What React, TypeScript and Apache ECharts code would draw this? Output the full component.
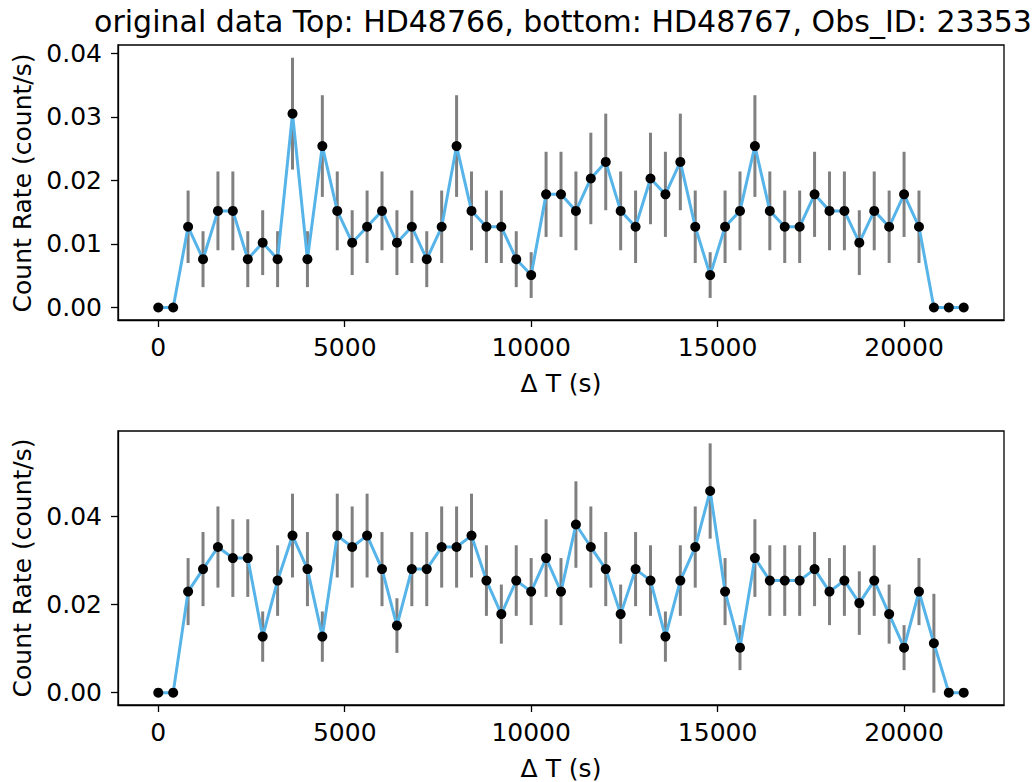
import React, { useEffect, useRef } from "react";
import * as echarts from "echarts";

const titleText = "original data Top: HD48766, bottom: HD48767, Obs_ID: 23353";
const yLabel = "Count Rate (count/s)";
const xLabel = "Δ T (s)";

const times = [
  0, 400, 800, 1200, 1600, 2000, 2400, 2800, 3200, 3600,
  4000, 4400, 4800, 5200, 5600, 6000, 6400, 6800, 7200, 7600,
  8000, 8400, 8800, 9200, 9600, 10000, 10400, 10800, 11200, 11600,
  12000, 12400, 12800, 13200, 13600, 14000, 14400, 14800, 15200, 15600,
  16000, 16400, 16800, 17200, 17600, 18000, 18400, 18800, 19200, 19600,
  20000, 20400, 20800, 21200, 21600,
];

const topRate = [
  0, 0, 0.0127, 0.0076, 0.0152, 0.0152, 0.0076, 0.0102, 0.0076, 0.0305,
  0.0076, 0.0254, 0.0152, 0.0102, 0.0127, 0.0152, 0.0102, 0.0127, 0.0076, 0.0127,
  0.0254, 0.0152, 0.0127, 0.0127, 0.0076, 0.0051, 0.0178, 0.0178, 0.0152, 0.0203,
  0.0229, 0.0152, 0.0127, 0.0203, 0.0178, 0.0229, 0.0127, 0.0051, 0.0127, 0.0152,
  0.0254, 0.0152, 0.0127, 0.0127, 0.0178, 0.0152, 0.0152, 0.0102, 0.0152, 0.0127,
  0.0178, 0.0127, 0, 0, 0,
];

const topErr = [
  0, 0, 0.0057, 0.0044, 0.0062, 0.0062, 0.0044, 0.0051, 0.0044, 0.0088,
  0.0044, 0.008, 0.0062, 0.0051, 0.0057, 0.0062, 0.0051, 0.0057, 0.0044, 0.0057,
  0.008, 0.0062, 0.0057, 0.0057, 0.0044, 0.0036, 0.0067, 0.0067, 0.0062, 0.0072,
  0.0076, 0.0062, 0.0057, 0.0072, 0.0067, 0.0076, 0.0057, 0.0036, 0.0057, 0.0062,
  0.008, 0.0062, 0.0057, 0.0057, 0.0067, 0.0062, 0.0062, 0.0051, 0.0062, 0.0057,
  0.0067, 0.0057, 0, 0, 0,
];

const botRate = [
  0, 0, 0.0229, 0.028, 0.033, 0.0305, 0.0305, 0.0127, 0.0254, 0.0356,
  0.028, 0.0127, 0.0356, 0.033, 0.0356, 0.028, 0.0152, 0.028, 0.028, 0.033,
  0.033, 0.0356, 0.0254, 0.0178, 0.0254, 0.0229, 0.0305, 0.0229, 0.0381, 0.033,
  0.028, 0.0178, 0.028, 0.0254, 0.0127, 0.0254, 0.033, 0.0457, 0.0229, 0.0102,
  0.0305, 0.0254, 0.0254, 0.0254, 0.028, 0.0229, 0.0254, 0.0203, 0.0254, 0.0178,
  0.0102, 0.0229, 0.0112, 0, 0,
];

const botErr = [
  0, 0, 0.0076, 0.0084, 0.0092, 0.0088, 0.0088, 0.0057, 0.008, 0.0095,
  0.0084, 0.0057, 0.0095, 0.0092, 0.0095, 0.0084, 0.0062, 0.0084, 0.0084, 0.0092,
  0.0092, 0.0095, 0.008, 0.0067, 0.008, 0.0076, 0.0088, 0.0076, 0.0098, 0.0092,
  0.0084, 0.0067, 0.0084, 0.008, 0.0057, 0.008, 0.0092, 0.0108, 0.0076, 0.0051,
  0.0088, 0.008, 0.008, 0.008, 0.0084, 0.0076, 0.008, 0.0072, 0.008, 0.0067,
  0.0051, 0.0076, 0.0112, 0, 0,
];

const xTicks = [0, 5000, 10000, 15000, 20000];
const topYTicks = [0, 0.01, 0.02, 0.03, 0.04];
const botYTicks = [0, 0.02, 0.04];

const FONT = "DejaVu Sans";
const FS = 25;
const TITLE_FS = 30;
const LINE_COLOR = "#56B4E9";
const ERR_COLOR = "#808080";

function xAxisDef(gridIndex: number) {
  return {
    type: "value",
    gridIndex,
    min: -1080,
    max: 22680,
    axisLine: { show: true, onZero: false, lineStyle: { color: "#000", width: 1.3 } },
    axisTick: { show: true, length: 7, customValues: xTicks, lineStyle: { color: "#000", width: 1.3 } },
    axisLabel: {
      show: true,
      customValues: xTicks,
      margin: 15,
      color: "#000",
      fontFamily: FONT,
      fontSize: FS,
      formatter: (v: number) => String(Math.round(v)),
    },
    splitLine: { show: false },
  };
}

function yAxisDef(gridIndex: number, min: number, max: number, ticks: number[]) {
  return {
    type: "value",
    gridIndex,
    min,
    max,
    axisLine: { show: true, onZero: false, lineStyle: { color: "#000", width: 1.3 } },
    axisTick: { show: true, length: 7, customValues: ticks, lineStyle: { color: "#000", width: 1.3 } },
    axisLabel: {
      show: true,
      customValues: ticks,
      margin: 16,
      color: "#000",
      fontFamily: FONT,
      fontSize: FS,
      formatter: (v: number) => v.toFixed(2),
    },
    splitLine: { show: false },
  };
}

function errSeries(idx: number, rate: number[], err: number[]) {
  return {
    type: "custom",
    xAxisIndex: idx,
    yAxisIndex: idx,
    z: 1,
    data: times.map((t, i) => [t, rate[i] - err[i], rate[i] + err[i]]),
    renderItem: (params: any, api: any) => {
      const lo = api.coord([api.value(0), api.value(1)]);
      const hi = api.coord([api.value(0), api.value(2)]);
      return {
        type: "line",
        shape: { x1: lo[0], y1: lo[1], x2: hi[0], y2: hi[1] },
        style: { stroke: ERR_COLOR, lineWidth: 3 },
      };
    },
  };
}

function lineSeries(idx: number, rate: number[]) {
  return {
    type: "line",
    xAxisIndex: idx,
    yAxisIndex: idx,
    z: 3,
    data: times.map((t, i) => [t, rate[i]]),
    symbol: "circle",
    symbolSize: 10,
    showAllSymbol: true,
    itemStyle: { color: "#000", borderWidth: 0 },
    lineStyle: { color: LINE_COLOR, width: 3 },
  };
}

function label(text: string, x: number, y: number, size: number, rotate = false) {
  return {
    type: "text",
    x,
    y,
    rotation: rotate ? Math.PI / 2 : 0,
    style: { text, fontFamily: FONT, fontSize: size, fill: "#000", textAlign: "center", textVerticalAlign: "middle" },
  };
}

export default function App() {
  const ref = useRef<HTMLDivElement>(null);
  useEffect(() => {
    if (!ref.current) return;
    const chart = echarts.init(ref.current, undefined, { renderer: "svg" });
    chart.setOption({
      animation: false,
      backgroundColor: "#fff",
      textStyle: { fontFamily: FONT },
      grid: [
        { left: 118, top: 45, width: 886, height: 275, show: true, borderColor: "#000", borderWidth: 1.3, containLabel: false },
        { left: 118, top: 431, width: 886, height: 274, show: true, borderColor: "#000", borderWidth: 1.3, containLabel: false },
      ],
      xAxis: [xAxisDef(0), xAxisDef(1)],
      yAxis: [yAxisDef(0, -0.00197, 0.0413, topYTicks), yAxisDef(1, -0.0028, 0.0593, botYTicks)],
      series: [
        errSeries(0, topRate, topErr),
        lineSeries(0, topRate),
        errSeries(1, botRate, botErr),
        lineSeries(1, botRate),
      ],
      graphic: [
        label(titleText, 563, 21, TITLE_FS),
        label(yLabel, 22, 183, FS, true),
        label(yLabel, 22, 568, FS, true),
        label(xLabel, 561, 383, FS),
        label(xLabel, 561, 768, FS),
      ],
    });
    return () => chart.dispose();
  }, []);
  return <div ref={ref} style={{ position: "fixed", left: 0, top: 0, width: 1035, height: 782 }} />;
}
